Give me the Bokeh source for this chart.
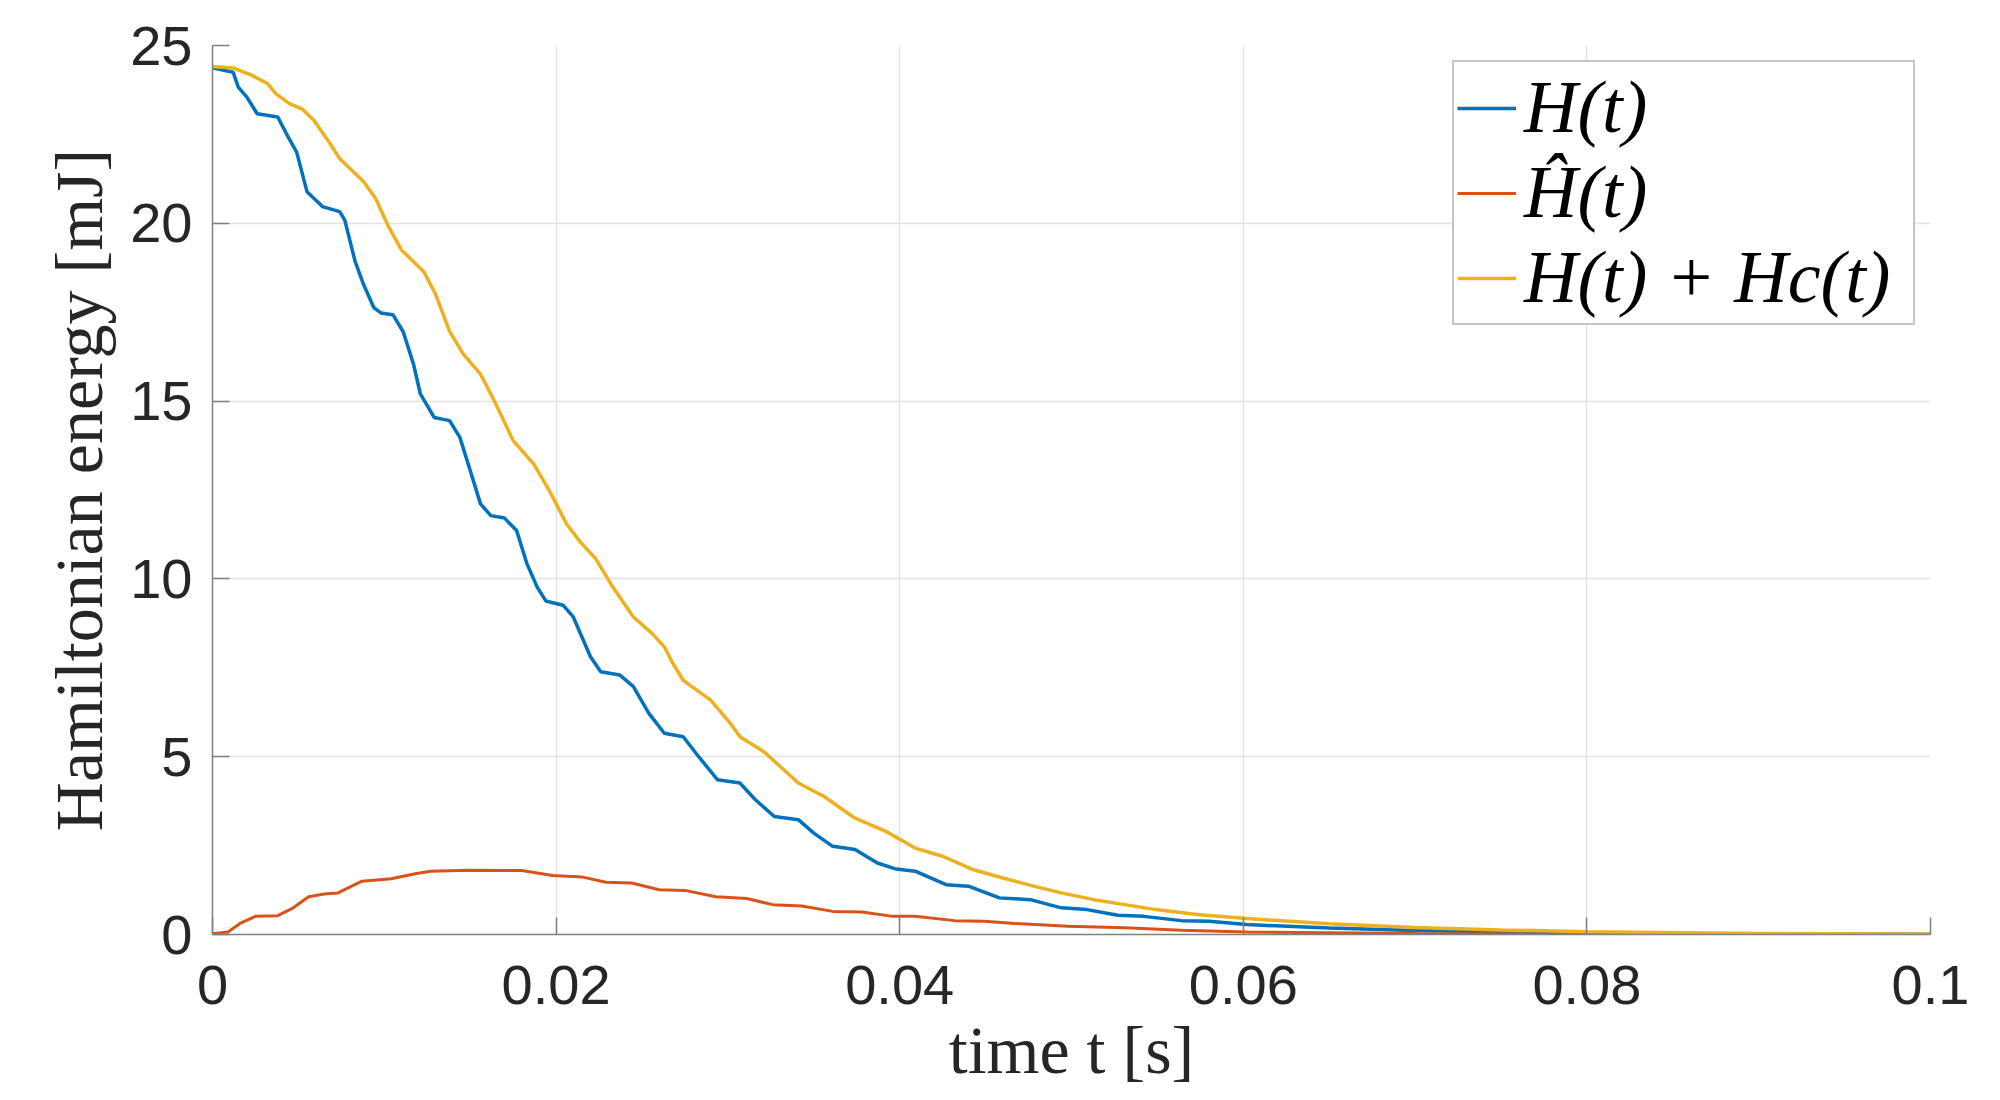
from bokeh.plotting import figure
from bokeh.models import Range1d, FixedTicker, Legend, LegendItem
from bokeh.embed import file_html
from bokeh.resources import INLINE

# ---- data ----
t_H = [0, 0.0012, 0.0015, 0.002, 0.0026, 0.0038, 0.0044, 0.0049, 0.0055, 0.0064,
       0.0074, 0.0077, 0.0083, 0.0088, 0.0094, 0.0098, 0.0105, 0.0111, 0.0117, 0.0121,
       0.0129, 0.0138, 0.0144, 0.015, 0.0156, 0.0162, 0.017, 0.0177, 0.0183, 0.0189,
       0.0194, 0.0204, 0.021, 0.022, 0.0226, 0.0237, 0.0245, 0.0254, 0.0263, 0.0274,
       0.0283, 0.0294, 0.0307, 0.0316, 0.0327, 0.0341, 0.035, 0.0361, 0.0374, 0.0387,
       0.0398, 0.0409, 0.0427, 0.044, 0.0458, 0.0476, 0.0494, 0.0509, 0.0527, 0.0542,
       0.0564, 0.058, 0.0602, 0.065, 0.07, 0.075, 0.08, 0.09, 0.1]
H = [24.37, 24.25, 23.83, 23.55, 23.08, 22.99, 22.43, 22.0, 20.89, 20.47,
     20.33, 20.09, 18.93, 18.27, 17.62, 17.48, 17.43, 16.95, 16.04, 15.2,
     14.54, 14.45, 13.98, 13.05, 12.11, 11.78, 11.71, 11.36, 10.43, 9.77,
     9.38, 9.26, 8.93, 7.81, 7.39, 7.3, 6.97, 6.22, 5.66, 5.56,
     5.0, 4.35, 4.26, 3.79, 3.32, 3.23, 2.85, 2.48, 2.39, 2.01,
     1.84, 1.78, 1.40, 1.36, 1.03, 0.98, 0.75, 0.70, 0.54, 0.51,
     0.39, 0.37, 0.28, 0.18, 0.11, 0.07, 0.04, 0.015, 0.005]

t_Hhat = [0, 0.0009, 0.0016, 0.0025, 0.0038, 0.0047, 0.0056, 0.0065, 0.0073, 0.0087,
          0.0104, 0.0118, 0.0127, 0.0149, 0.0171, 0.018, 0.0198, 0.0215, 0.0229, 0.0244,
          0.026, 0.0275, 0.0293, 0.0311, 0.0326, 0.0343, 0.0361, 0.0378, 0.0396, 0.0409,
          0.0432, 0.0449, 0.0467, 0.0498, 0.0531, 0.0564, 0.0602, 0.07, 0.08, 0.1]
Hhat = [0.02, 0.07, 0.31, 0.51, 0.53, 0.75, 1.06, 1.14, 1.17, 1.50,
        1.57, 1.71, 1.78, 1.81, 1.80, 1.80, 1.66, 1.62, 1.47, 1.45,
        1.26, 1.24, 1.06, 1.01, 0.84, 0.80, 0.65, 0.63, 0.51, 0.51,
        0.39, 0.37, 0.31, 0.23, 0.19, 0.12, 0.07, 0.03, 0.01, 0.0]

t_HHc = [0, 0.0012, 0.0023, 0.0032, 0.0037, 0.0045, 0.0052, 0.0059, 0.0065, 0.0069,
         0.0074, 0.008, 0.0088, 0.0095, 0.0102, 0.011, 0.0123, 0.013, 0.0138, 0.0146,
         0.0156, 0.0164, 0.0175, 0.0187, 0.0196, 0.0206, 0.0214, 0.0223, 0.0233, 0.0245,
         0.0256, 0.0263, 0.0268, 0.0274, 0.0279, 0.029, 0.0302, 0.0307, 0.0321, 0.0341,
         0.0356, 0.0374, 0.0392, 0.0409, 0.0425, 0.0443, 0.046, 0.0478, 0.0494, 0.0513,
         0.0531, 0.0549, 0.0573, 0.0602, 0.065, 0.07, 0.075, 0.08, 0.09, 0.1]
HHc = [24.41, 24.37, 24.16, 23.93, 23.64, 23.36, 23.22, 22.9, 22.48, 22.2,
       21.82, 21.54, 21.17, 20.7, 19.95, 19.25, 18.64, 17.99, 16.96, 16.32,
       15.76, 15.01, 13.89, 13.23, 12.49, 11.55, 11.04, 10.57, 9.77, 8.93,
       8.46, 8.09, 7.62, 7.15, 6.97, 6.59, 5.9, 5.56, 5.14, 4.26,
       3.88, 3.27, 2.90, 2.43, 2.20, 1.82, 1.59, 1.36, 1.17, 0.98,
       0.84, 0.70, 0.56, 0.45, 0.30, 0.20, 0.13, 0.08, 0.03, 0.01]

x_ticks = [0.0, 0.02, 0.04, 0.06, 0.08, 0.1]
x_tick_labels = ["0", "0.02", "0.04", "0.06", "0.08", "0.1"]
y_ticks = [0, 5, 10, 15, 20, 25]

series_labels = ["H(t)", "Ĥ(t)", "H(t) + Hc(t)"]
colors = ["#0072BD", "#D95319", "#EDB120"]

# ---- figure ----
p = figure(width=1984, height=1090, x_range=Range1d(0, 0.1), y_range=Range1d(0, 25),
           output_backend="svg", toolbar_location=None,
           min_border_left=212, min_border_right=54, min_border_top=45, min_border_bottom=155)
p.outline_line_color = None
p.background_fill_color = "white"

r1 = p.line(t_H, H, line_color=colors[0], line_width=3.5)
r2 = p.line(t_Hhat, Hhat, line_color=colors[1], line_width=3)
r3 = p.line(t_HHc, HHc, line_color=colors[2], line_width=3.5)

for ax in (p.xaxis[0], p.yaxis[0]):
    ax.axis_line_color = "#808080"
    ax.axis_line_width = 1.5
    ax.major_tick_line_color = "#808080"
    ax.major_tick_line_width = 1.5
    ax.major_tick_in = 17
    ax.major_tick_out = 0
    ax.minor_tick_line_color = None
    ax.major_label_text_font = "Liberation Sans"
    ax.major_label_text_font_size = "56px"
    ax.major_label_text_color = "#262626"
    ax.axis_label_text_font = "Liberation Serif"
    ax.axis_label_text_font_style = "normal"
    ax.axis_label_text_font_size = "68px"
    ax.axis_label_text_color = "#262626"

p.xaxis.ticker = FixedTicker(ticks=x_ticks)
p.xaxis.major_label_overrides = dict(zip(x_ticks, x_tick_labels))
p.yaxis.ticker = FixedTicker(ticks=y_ticks)
p.xaxis.major_label_standoff = 31
p.yaxis.major_label_standoff = 20
p.xaxis.axis_label = "time t [s]"
p.yaxis.axis_label = "Hamiltonian energy [mJ]"
p.xaxis.axis_label_standoff = 5
p.yaxis.axis_label_standoff = 10

p.xgrid.grid_line_color = "#e3e3e3"
p.ygrid.grid_line_color = "#e3e3e3"
p.xgrid.grid_line_width = 1.5
p.ygrid.grid_line_width = 1.5

legend = Legend(items=[LegendItem(label=series_labels[0], renderers=[r1]),
                       LegendItem(label=series_labels[1], renderers=[r2]),
                       LegendItem(label=series_labels[2], renderers=[r3])],
                location="top_right", margin=15)
legend.label_text_font = "Liberation Serif"
legend.label_text_font_style = "italic"
legend.label_text_font_size = "74px"
legend.label_text_color = "black"
legend.label_height = 80
legend.label_width = 386
legend.glyph_width = 59
legend.glyph_height = 80
legend.label_standoff = 8
legend.padding = 3
legend.spacing = 0
legend.border_line_color = "#8c8c8c"
legend.border_line_width = 2
legend.background_fill_color = "white"
legend.background_fill_alpha = 1.0
p.add_layout(legend)

open("out.html", "w").write(file_html(p, INLINE))
